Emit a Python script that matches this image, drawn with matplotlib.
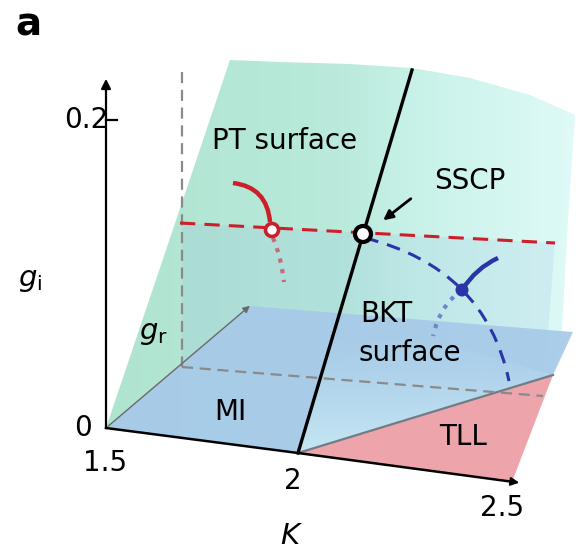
import numpy as np
import matplotlib
matplotlib.use('Agg')
import matplotlib.pyplot as plt
from matplotlib.patches import Polygon, Circle, FancyArrowPatch, PathPatch
from matplotlib.path import Path
from matplotlib.colors import LinearSegmentedColormap, to_rgb

# schematic points in picture coordinates (x right, y down)
pt_surface = [(106, 428), (230, 60), (280, 62), (350, 64), (412, 68), (470, 78),
              (530, 95), (575, 115), (568, 220), (562, 330), (553, 375), (298, 453)]
box_plane = [(182, 223), (555, 243), (543, 396), (182, 367)]
floor_mi = [(106, 428), (250, 306), (573, 332), (553, 375), (298, 453)]
bkt_front = [(298, 453), (335, 330), (450, 345), (553, 375)]
tll = [(298, 453), (553, 375), (512, 482)]

crit_line = [(298, 453), (412, 70)]
red_dash = [(180, 223), (555, 243)]
# quadratic curves: start, control, end
red_arc = [(233, 183), (267, 187), (270, 222)]
red_dot = [(273, 238), (281, 256), (284, 282)]
blue_dash = [(365, 238), (485, 268), (509, 381)]
blue_solid = [(462, 290), (476, 268), (498, 258)]
blue_dot = [(462, 290), (440, 305), (433, 336)]
grey_vert = [(182, 72), (182, 367)]
grey_horz = [(182, 367), (543, 396)]
grey_bkt = [(298, 453), (553, 375)]

pc_point = (272, 230)
sscp_point = (363, 234)
bkt_point = (462, 290)

origin = (106, 428)
gi_top = (106, 76)
gi_tick = 120
k_mid = (298, 453)
k_end = (522, 483)
gr_end = (252, 304)

fig = plt.figure(figsize=(5.78, 5.5), dpi=100)
ax = fig.add_axes([0, 0, 1, 1])
ax.set_xlim(0, 578)
ax.set_ylim(550, 0)
ax.axis('off')

# PT surface with a left-to-right gradient
green = Polygon(pt_surface, closed=True, fc='none', ec='none')
ax.add_patch(green)
cmap = LinearSegmentedColormap.from_list('pt', [(0, '#afe4cf'), (0.5, '#b9eadb'),
                                                (0.66, '#c8f2e9'), (1, '#e0faf8')])
grad = np.linspace(0, 1, 256).reshape(1, -1)
im = ax.imshow(grad, extent=[100, 580, 460, 55], cmap=cmap, aspect='auto', zorder=1)
im.set_clip_path(green)

ax.add_patch(Polygon(box_plane, closed=True, fc='#8db6df', ec='none', alpha=0.17, zorder=2))
ax.add_patch(Polygon(floor_mi, closed=True, fc='#a7cae9', ec='none', alpha=0.93, zorder=3))

# front part of the BKT surface, fading upwards
front = Polygon(bkt_front, closed=True, fc='none', ec='none')
ax.add_patch(front)
rgba = np.zeros((128, 1, 4))
rgba[:, 0, :3] = to_rgb('#cdeef7')
rgba[:, 0, 3] = np.linspace(0, 0.85, 128) ** 1.3
im2 = ax.imshow(rgba, extent=[290, 560, 455, 330], origin='upper', aspect='auto',
                zorder=4, interpolation='bilinear')
im2.set_clip_path(front)

ax.add_patch(Polygon(tll, closed=True, fc='#eea4ab', ec='none', zorder=5))

def xy(pts):
    a = np.array(pts, dtype=float)
    return a[:, 0], a[:, 1]

def curve(pts, **kw):
    p = Path(pts, [Path.MOVETO, Path.CURVE3, Path.CURVE3])
    ax.add_patch(PathPatch(p, fc='none', **kw))

ax.plot(*xy(grey_bkt), color='#6f7d85', lw=1.6, zorder=6)
ax.plot(*xy(grey_vert), color='#8a8a8a', lw=1.6, dashes=(5, 3), zorder=6)
ax.plot(*xy(grey_horz), color='#8a8a8a', lw=1.6, dashes=(5, 3), zorder=6)

# axes
ax.plot([origin[0], gi_top[0]], [origin[1], gi_top[1] + 8], color='k', lw=1.6, zorder=7)
ax.add_patch(FancyArrowPatch((gi_top[0], gi_top[1] + 12), gi_top, arrowstyle='-|>',
                             mutation_scale=14, color='k', lw=1.6, zorder=7))
ax.plot([origin[0], origin[0] + 11], [gi_tick, gi_tick], color='k', lw=1.6, zorder=7)
ax.plot([origin[0], k_mid[0], k_end[0] - 8], [origin[1], k_mid[1], k_end[1] - 1],
        color='k', lw=1.8, zorder=7)
ax.add_patch(FancyArrowPatch((k_end[0] - 12, k_end[1] - 1.6), k_end, arrowstyle='-|>',
                             mutation_scale=12, color='k', lw=1.5, zorder=7))
ax.add_patch(FancyArrowPatch(origin, gr_end, arrowstyle='-|>', mutation_scale=10,
                             color='#6a6a6a', lw=1.0, zorder=7))

ax.plot(*xy(crit_line), color='k', lw=2.4, zorder=8)

# PT line (red)
ax.plot(*xy(red_dash), color='#cc1f2a', lw=2.2, dashes=(5, 3), zorder=9)
curve(red_arc, ec='#cc1f2a', lw=3.2, capstyle='butt', zorder=9)
curve(red_dot, ec='#c76b78', lw=3.0, linestyle=(0, (1, 1.6)), zorder=9)
ax.add_patch(Circle(pc_point, 6.5, fc='white', ec='#cc1f2a', lw=2.6, zorder=10))

# BKT line (blue)
curve(blue_dash, ec='#2a35a8', lw=2.2, linestyle=(0, (4.5, 3)), zorder=9)
curve(blue_solid, ec='#2a35a8', lw=3.2, capstyle='butt', zorder=9)
curve(blue_dot, ec='#6f86c8', lw=3.0, linestyle=(0, (1, 1.6)), zorder=9)
ax.add_patch(Circle(bkt_point, 6.5, fc='#2a35a8', ec='none', zorder=10))

# SSCP
ax.add_patch(Circle(sscp_point, 8, fc='white', ec='k', lw=3.0, zorder=11))
ax.add_patch(FancyArrowPatch((413, 197), (381, 222), arrowstyle='-|>', mutation_scale=14,
                             color='k', lw=2.0, zorder=11))

fs = 20
txt = dict(color='k', fontsize=fs, zorder=12, family='DejaVu Sans')
ax.text(285, 141, 'PT surface', ha='center', va='center', **txt)
ax.text(470, 181, 'SSCP', ha='center', va='center', **txt)
ax.text(360, 314, 'BKT', ha='left', va='center', **txt)
ax.text(358, 353, 'surface', ha='left', va='center', **txt)
ax.text(463, 437, 'TLL', ha='center', va='center', **txt)
ax.text(230, 412, 'MI', ha='center', va='center', **txt)
ax.text(86, 120, '0.2', ha='center', va='center', **txt)
ax.text(83, 428, '0', ha='center', va='center', **txt)
ax.text(105, 463, '1.5', ha='center', va='center', **txt)
ax.text(293, 481, '2', ha='center', va='center', **txt)
ax.text(502, 508, '2.5', ha='center', va='center', **txt)
ax.text(292, 536, r'$K$', ha='center', va='center', fontsize=fs + 1, zorder=12)
ax.text(30, 280, r'$g_{\rm i}$', ha='center', va='center', fontsize=fs + 1, zorder=12)
ax.text(153, 333, r'$g_{\rm r}$', ha='center', va='center', fontsize=fs + 1, zorder=12)
ax.text(15, 25, 'a', ha='left', va='center', fontsize=28, fontweight='bold', zorder=12)

fig.savefig('out.png', dpi=100)
